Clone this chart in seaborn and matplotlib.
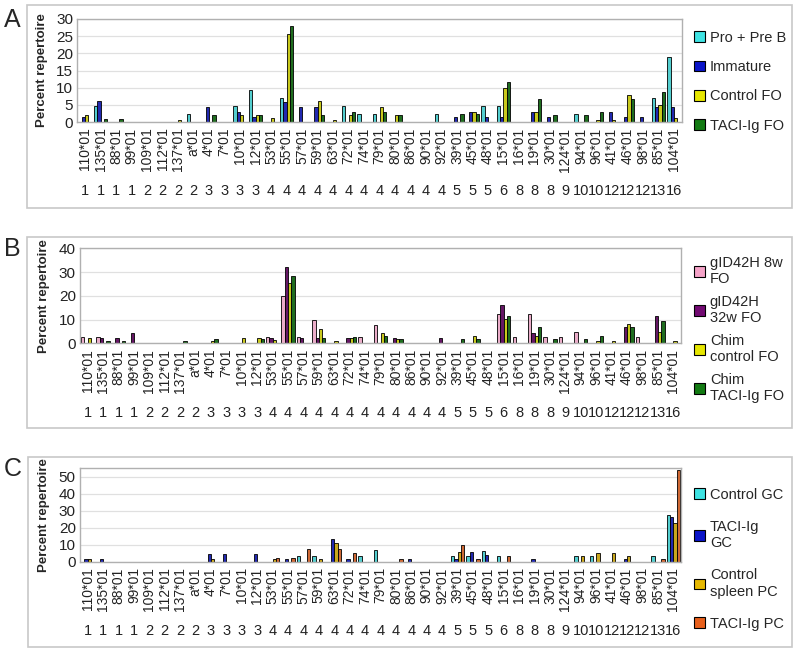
import numpy as np
import pandas as pd
import seaborn as sns
import matplotlib.pyplot as plt
from matplotlib.patches import Patch, Rectangle

# Categories (V gene segments) and their family numbers
segments = ['110*01', '135*01', '88*01', '99*01', '109*01', '112*01', '137*01', 'a*01',
            '4*01', '7*01', '10*01', '12*01', '53*01', '55*01', '57*01', '59*01', '63*01',
            '72*01', '74*01', '79*01', '80*01', '86*01', '90*01', '92*01', '39*01', '45*01',
            '48*01', '15*01', '16*01', '19*01', '30*01', '124*01', '94*01', '96*01', '41*01',
            '46*01', '98*01', '85*01', '104*01']
families = ['1', '1', '1', '1', '2', '2', '2', '2', '3', '3', '3', '3', '4', '4', '4', '4', '4',
            '4', '4', '4', '4', '4', '4', '4', '5', '5', '5', '6', '8', '8', '8', '9', '10', '10',
            '12', '12', '12', '13', '16']

# Panel A
pro_pre_b = [0, 4.8, 0, 0, 0, 0, 0, 2.4, 0, 0,
             4.8, 9.4, 0, 7.0, 0, 0, 0, 4.8, 2.4, 2.4,
             0, 0, 0, 2.4, 0, 0, 4.8, 4.8, 0, 0,
             0, 0, 2.4, 0, 0, 0, 0, 7.0, 19.0]
immature = [1.4, 6.0, 0, 0, 0, 0, 0, 0, 4.3, 0,
            2.9, 1.4, 0, 5.8, 4.3, 4.3, 0, 0, 0, 0,
            0, 0, 0, 0, 1.4, 3.0, 1.4, 1.4, 0, 3.0,
            1.4, 0, 0, 0, 3.0, 1.4, 1.4, 4.3, 4.3]
control_fo = [2.1, 0, 0, 0, 0, 0, 0.6, 0, 0, 0,
              2.1, 2.1, 1.3, 25.5, 0, 6.0, 0.6, 1.9, 0, 4.3,
              2.1, 0, 0, 0, 0, 3.0, 0, 10.0, 0, 3.0,
              0, 0, 0, 0.5, 0.5, 7.9, 0, 5.0, 1.3]
taci_fo = [0, 1.0, 1.0, 0, 0, 0, 0, 0, 2.1, 0,
           0, 2.1, 0, 27.9, 0, 2.1, 0, 3.0, 0, 3.0,
           2.1, 0, 0, 0, 2.2, 2.2, 0, 11.7, 0, 6.7,
           2.1, 0, 2.0, 3.0, 0, 6.7, 0, 8.8, 0]

# Panel B
gid_8w = [2.8, 2.8, 0, 0, 0, 0, 0, 0, 0, 0,
          0, 0, 2.8, 20.0, 2.8, 9.9, 0, 0, 2.8, 7.7,
          0, 0, 0, 0, 0, 0, 0, 12.4, 2.8, 12.4,
          2.8, 2.8, 4.8, 0, 0, 0, 2.8, 0, 0]
gid_32w = [0, 2.3, 2.1, 4.2, 0, 0, 0, 0, 0, 0,
           0, 0, 2.3, 32.1, 2.1, 2.1, 0, 2.1, 0, 0,
           2.1, 0, 0, 2.1, 0, 0, 0, 16.2, 0, 4.2,
           0, 0, 0, 0, 0, 7.0, 0, 11.5, 0]
chim_control = [2.3, 0, 0, 0, 0, 0, 0, 0, 1.0, 0,
                2.1, 2.1, 1.4, 25.6, 0, 5.9, 1.0, 2.1, 0, 4.2,
                2.0, 0, 0, 0, 0, 3.0, 0, 10.1, 0, 3.1,
                0, 0, 0, 1.0, 0.8, 8.0, 0, 4.9, 1.0]
chim_taci = [0, 1.0, 1.0, 0, 0, 0, 1.0, 0, 1.7, 0,
             0, 1.9, 0, 28.2, 0, 2.1, 0, 2.8, 0, 3.2,
             1.7, 0, 0, 0, 1.7, 1.8, 0, 11.5, 0, 6.8,
             1.7, 0, 1.7, 3.1, 0, 6.8, 0, 9.2, 0]

# Panel C
control_gc = [0, 0, 0, 0, 0, 0, 0, 0, 0, 0,
              0, 0, 0, 0, 3.3, 3.3, 0, 0, 3.3, 6.9,
              0, 0, 0, 0, 3.3, 3.3, 6.5, 3.3, 0, 0,
              0, 0, 3.3, 3.3, 0, 0, 0, 3.3, 27.5]
taci_gc = [1.6, 1.6, 0, 0, 0, 0, 0, 0, 4.3, 4.3,
           0, 4.3, 0, 1.6, 0, 0, 13.1, 1.6, 0, 0,
           0, 1.6, 0, 0, 1.3, 5.9, 4.0, 0, 0, 1.6,
           0, 0, 0, 0, 0, 1.3, 0, 0, 26.0]
control_pc = [1.6, 0, 0, 0, 0, 0, 0, 0, 1.6, 0,
              0, 0, 1.6, 0, 0, 1.6, 11.2, 0, 0, 0,
              0, 0, 0, 0, 5.5, 0, 0, 0, 0, 0,
              0, 0, 3.3, 5.3, 5.3, 3.3, 0, 0, 22.5]
taci_pc = [0, 0, 0, 0, 0, 0, 0, 0, 0, 0,
           0, 0, 2.1, 2.1, 7.4, 0, 7.4, 4.9, 0, 0,
           1.6, 0, 0, 0, 9.8, 1.6, 0, 3.3, 0, 0,
           0, 0, 0, 0, 0, 0, 0, 1.6, 53.9]

panels = [
    dict(letter='A', series={'Pro + Pre B': pro_pre_b, 'Immature': immature,
                             'Control FO': control_fo, 'TACI-Ig FO': taci_fo},
         colors=['#3fe3e3', '#0a14c8', '#e6e600', '#127a12'],
         ylim=30, yticks=range(0, 31, 5),
         ax_rect=[77.3, 19, 681.7, 122], box=[27, 5, 792, 208], leg_top=25, lspace=1.05),
    dict(letter='B', series={'gID42H 8w\nFO': gid_8w, 'gID42H\n32w FO': gid_32w,
                             'Chim\ncontrol FO': chim_control, 'Chim\nTACI-Ig FO': chim_taci},
         colors=['#f5a3c8', '#720a72', '#e6e600', '#127a12'],
         ylim=40, yticks=range(0, 41, 10),
         ax_rect=[80, 248.3, 681, 343.3], box=[27, 237, 792, 428], leg_top=250, lspace=0.6),
    dict(letter='C', series={'Control GC': control_gc, 'TACI-Ig\nGC': taci_gc,
                             'Control\nspleen PC': control_pc, 'TACI-Ig PC': taci_pc},
         colors=['#3fe3e3', '#0a14c8', '#e6b800', '#e8601c'],
         ylim=55, yticks=range(0, 51, 10),
         ax_rect=[80, 468, 681, 561.7], box=[28, 457, 792, 647], leg_top=482, lspace=1.25),
]

sns.set_theme(style='whitegrid')
plt.rcParams['font.family'] = ['Liberation Sans', 'DejaVu Sans']

W, H = 800, 656
fig = plt.figure(figsize=(8, 6.56), dpi=100)

for p in panels:
    x0, y0, x1, y1 = p['ax_rect']
    ax = fig.add_axes([x0 / W, 1 - y1 / H, (x1 - x0) / W, (y1 - y0) / H])
    names = list(p['series'].keys())
    df = pd.DataFrame({
        'segment': segments * len(names),
        'series': np.repeat(names, len(segments)),
        'value': np.concatenate([p['series'][n] for n in names]),
    })
    sns.barplot(data=df, x='segment', y='value', hue='series', order=segments,
                hue_order=names, palette=p['colors'], edgecolor='black', linewidth=0.6,
                width=0.86, errorbar=None, legend=False, ax=ax)
    for bar in ax.patches:
        if bar.get_height() == 0:
            bar.set_visible(False)

    ax.set_xlim(-0.5, len(segments) - 0.5)
    ax.set_ylim(0, p['ylim'])
    ax.set_yticks(list(p['yticks']))
    ax.tick_params(axis='y', labelsize=11, length=0, pad=3, colors='#222222')
    ax.set_xlabel('')
    ax.set_ylabel('Percent repertoire', fontsize=9.5, fontweight='bold', labelpad=6)
    ax.yaxis.grid(True, color='#e0e0e0', lw=0.9)
    ax.xaxis.grid(False)
    for s in ax.spines.values():
        s.set_visible(True)
        s.set_color('#b0b0b0')
        s.set_linewidth(1)

    # category labels + separator ticks
    ax.set_xticks(range(len(segments)))
    ax.set_xticklabels(segments, rotation=90, fontsize=10)
    ax.tick_params(axis='x', which='major', length=0, pad=4, colors='#222222')
    ax.set_xticks(np.arange(-0.5, len(segments)), minor=True)
    ax.tick_params(axis='x', which='minor', length=58, width=0.8, color='#d0d0d0')
    for i, f in enumerate(families):
        ax.annotate(f, xy=(i, 0), xycoords=('data', 'axes fraction'), xytext=(0, -50),
                    textcoords='offset points', ha='center', va='center', fontsize=10.5,
                    color='#222222')

    handles = [Patch(facecolor=c, edgecolor='black', lw=0.8) for c in p['colors']]
    ax.legend(handles, names, loc='upper left', bbox_to_anchor=(688 / W, 1 - p['leg_top'] / H),
              bbox_transform=fig.transFigure, frameon=False, fontsize=10.5,
              handlelength=0.75, handleheight=0.75, handletextpad=0.35,
              labelspacing=p['lspace'], borderaxespad=0)

    bx0, by0, bx1, by1 = p['box']
    fig.add_artist(Rectangle((bx0 / W, 1 - by1 / H), (bx1 - bx0) / W, (by1 - by0) / H,
                             transform=fig.transFigure, fill=False, ec='#c8c8c8', lw=1.2))
    fig.text(4 / W, 1 - (y0 + 1) / H, p['letter'], fontsize=18, va='center', ha='left')

fig.savefig('out.png', dpi=100, facecolor='white')
